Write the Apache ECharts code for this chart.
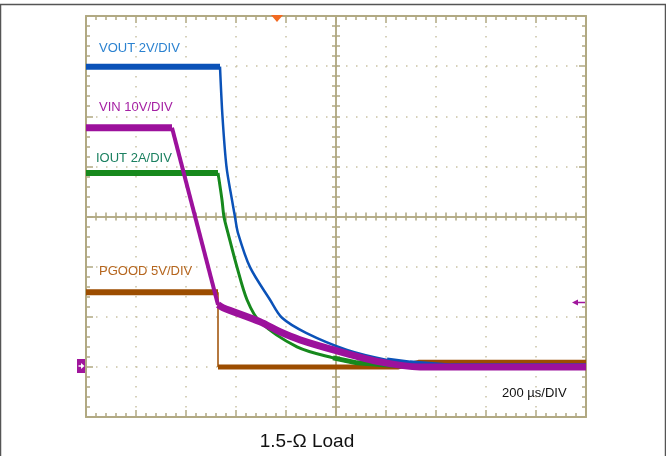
<!DOCTYPE html>
<html>
<head>
<meta charset="utf-8">
<script src="https://cdn.jsdelivr.net/npm/echarts@6/dist/echarts.min.js"></script>
<style>
  html, body { margin: 0; padding: 0; background: #fff; }
  #chart { width: 666px; height: 456px; }
</style>
</head>
<body>
<div id="chart"></div>
<script>
// x: time in µs from the left edge of the screen (200 µs/DIV)
// y: trace level in screen divisions (0 = bottom, 8 = top)
const vout = [[0, 6.99], [536, 6.99], [546, 5.99], [562, 4.99], [584, 4.33], [596, 3.99], [608, 3.67],
  [656, 2.99], [736, 2.34], [784, 1.98], [880, 1.68], [1044, 1.34], [1204, 1.14], [1296, 1.08],
  [1460, 1.02], [2000, 1.02]]
const vin = [[0, 5.77], [344, 5.77], [528, 2.24], [548, 2.18], [696, 1.9], [776, 1.7], [856, 1.54],
  [1004, 1.32], [1176, 1.1], [1336, 1.0], [2000, 1.0]]
const iout = [[0, 4.87], [528, 4.87], [544, 4.33], [552, 3.99], [568, 3.67], [604, 2.99], [644, 2.34],
  [696, 1.9], [844, 1.4], [988, 1.18], [1084, 1.08], [1256, 1.02], [2000, 0.99]]
const pgood = [[0, 2.49], [528, 2.49], [528, 1.0], [1250, 1.0], [1330, 1.09], [2000, 1.09]]

const labels = ['VOUT 2V/DIV', 'VIN 10V/DIV', 'IOUT 2A/DIV', 'PGOOD 5V/DIV']
const timeBase = '200 µs/DIV'
const caption = '1.5-Ω Load'

const gridColor = '#b1a983'
const dotColor = '#c9c2a4'
const font = '"Liberation Sans", Arial, sans-serif'

const chart = echarts.init(document.getElementById('chart'))

function borderAxis(pos, isX, extra) {
  const ax = {
    type: 'value',
    position: pos,
    min: 0,
    max: isX ? 2000 : 8,
    interval: isX ? 200 : 1,
    axisLine: { show: true, onZero: false, lineStyle: { color: gridColor, width: 2 } },
    axisTick: { show: true, inside: true, length: 7, lineStyle: { color: gridColor, width: 1.5 } },
    minorTick: { show: true, splitNumber: 5, length: 4, lineStyle: { color: gridColor, width: 1.5 } },
    axisLabel: { show: false },
    splitLine: { show: false }
  }
  return Object.assign(ax, extra || {})
}

function centerAxis(pos, isX, offset, inside) {
  return borderAxis(pos, isX, {
    offset: offset,
    axisLine: { show: true, onZero: false, lineStyle: { color: gridColor, width: 1.5 } },
    axisTick: { show: true, inside: inside, length: 4, lineStyle: { color: gridColor, width: 1.5 } },
    minorTick: { show: true, splitNumber: 5, length: 4, lineStyle: { color: gridColor, width: 1.5 } }
  })
}

function trace(data, color, width, z, smooth) {
  return {
    type: 'line',
    data: data,
    showSymbol: false,
    symbol: 'none',
    silent: true,
    z: z,
    smooth: smooth || false,
    lineStyle: { color: color, width: width, join: 'round' }
  }
}

chart.setOption({
  animation: false,
  backgroundColor: '#fff',
  grid: { left: 86, right: 80, top: 16, bottom: 39 },
  xAxis: [
    borderAxis('bottom', true, {
      splitLine: { show: true, lineStyle: { color: dotColor, type: [1.5, 8.5], width: 1.5 } }
    }),
    borderAxis('top', true),
    centerAxis('bottom', true, -200.5, false),
    centerAxis('bottom', true, -200.5, true)
  ],
  yAxis: [
    borderAxis('left', false, {
      splitLine: { show: true, lineStyle: { color: dotColor, type: [1.5, 8.5], width: 1.5 } }
    }),
    borderAxis('right', false),
    centerAxis('left', false, -250, false),
    centerAxis('left', false, -250, true)
  ],
  series: [
    trace(pgood.slice(1, 3), '#9c4d00', 1.5, 2),
    trace(pgood.slice(0, 2), '#9c4d00', 6, 2),
    trace(pgood.slice(2), '#9c4d00', 5, 2),
    trace(iout.slice(0, 2), '#17891d', 6, 3),
    trace(iout.slice(1), '#17891d', 3, 3, 0.3),
    trace(iout.slice(9), '#17891d', 5, 3),
    trace(vout.slice(0, 2), '#0b52b8', 6, 4),
    trace(vout.slice(1), '#0b52b8', 2.5, 4, 0.3),
    trace(vout.slice(12), '#0b52b8', 5, 4),
    trace(vin.slice(0, 2), '#9c119c', 7, 5),
    trace(vin.slice(1, 3), '#9c119c', 4, 5),
    trace(vin.slice(2), '#9c119c', 7, 5, 0.3)
  ],
  graphic: [
    { type: 'rect', silent: true, shape: { x: 0.5, y: 4.5, width: 665, height: 470 },
      style: { fill: null, stroke: '#555', lineWidth: 1.5 } },
    { type: 'polygon', silent: true, z: 10, shape: { points: [[271, 15], [283, 15], [277, 22]] },
      style: { fill: '#f26a22' } },
    { type: 'rect', silent: true, z: 10, shape: { x: 77, y: 359, width: 8, height: 14 },
      style: { fill: '#a0169c' } },
    { type: 'line', silent: true, z: 11, shape: { x1: 78.5, y1: 366, x2: 82, y2: 366 },
      style: { stroke: '#fff', lineWidth: 1.5 } },
    { type: 'polygon', silent: true, z: 11, shape: { points: [[81, 363], [84.5, 366], [81, 369]] },
      style: { fill: '#fff' } },
    { type: 'line', silent: true, z: 10, shape: { x1: 577, y1: 302.5, x2: 585, y2: 302.5 },
      style: { stroke: '#a0169c', lineWidth: 1.5 } },
    { type: 'polygon', silent: true, z: 10, shape: { points: [[572, 302.5], [578, 299.5], [578, 305.5]] },
      style: { fill: '#a0169c' } },
    { type: 'text', silent: true, z: 10, style: { text: labels[0], x: 99, y: 48, fill: '#2b82d0',
      font: '13px ' + font, textVerticalAlign: 'middle' } },
    { type: 'text', silent: true, z: 10, style: { text: labels[1], x: 99, y: 107, fill: '#a41fa3',
      font: '13px ' + font, textVerticalAlign: 'middle' } },
    { type: 'text', silent: true, z: 10, style: { text: labels[2], x: 96, y: 158, fill: '#1b8060',
      font: '13px ' + font, textVerticalAlign: 'middle' } },
    { type: 'text', silent: true, z: 10, style: { text: labels[3], x: 99, y: 271, fill: '#b5651d',
      font: '13px ' + font, textVerticalAlign: 'middle' } },
    { type: 'text', silent: true, z: 10, style: { text: timeBase, x: 502, y: 393, fill: '#111',
      font: '13px ' + font, textVerticalAlign: 'middle' } },
    { type: 'text', silent: true, z: 10, style: { text: caption, x: 307, y: 442, fill: '#111',
      font: '19px ' + font, textAlign: 'center', textVerticalAlign: 'middle' } }
  ]
})
</script>
</body>
</html>
